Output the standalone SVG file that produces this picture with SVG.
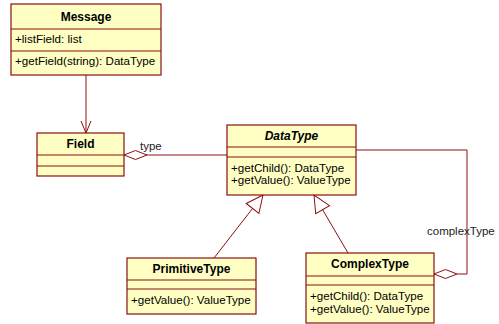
<svg xmlns="http://www.w3.org/2000/svg" width="499" height="324" viewBox="0 0 499 324">
<defs>
<style>
.box{fill:#FFFFC4;stroke:#8B1010;stroke-width:1.2}
.sep{stroke:#8B1010;stroke-width:1.2}
.ln{fill:none;stroke:#8B1010;stroke-width:1}
.t{font-family:"Liberation Sans",Arial,sans-serif;font-size:11.6px;fill:#000}
.b{font-weight:bold;text-anchor:middle;font-size:12px}
.lbl{font-family:"Liberation Sans",Arial,sans-serif;font-size:11.5px;fill:#222}
</style>
<marker id="gen" markerWidth="20" markerHeight="20" refX="18" refY="9" orient="auto" markerUnits="userSpaceOnUse">
<path d="M1,1 L18,9 L1,17 Z" fill="#fff" stroke="#8B1010" stroke-width="1"/>
</marker>
<marker id="open" markerWidth="14" markerHeight="14" refX="12" refY="6" orient="auto" markerUnits="userSpaceOnUse">
<path d="M0,1 L12,6 L0,11" fill="none" stroke="#8B1010" stroke-width="1"/>
</marker>
</defs>
<g id="connectors">
<line class="ln" x1="86" y1="75" x2="86" y2="133" marker-end="url(#open)"/>
<g id="agg-type">
<polygon points="124,155 135.5,150.5 147,155 135.5,159.5" fill="#fff" stroke="#8B1010" stroke-width="1"/>
<line class="ln" x1="147" y1="155" x2="227" y2="155"/>
<text class="lbl" x="140" y="150">type</text>
</g>
<g id="agg-complex">
<polyline class="ln" points="356,150 467,150 467,274 457,274"/>
<polygon points="434,274 445.5,269.5 457,274 445.5,278.5" fill="#fff" stroke="#8B1010" stroke-width="1"/>
<text class="lbl" x="427" y="235">complexType</text>
</g>
<line class="ln" x1="214" y1="258" x2="263" y2="195" marker-end="url(#gen)"/>
<line class="ln" x1="348" y1="253" x2="314" y2="195" marker-end="url(#gen)"/>
</g>
<g id="Message">
<rect class="box" x="11" y="4" width="150" height="71"/>
<line class="sep" x1="11" y1="29" x2="161" y2="29"/>
<line class="sep" x1="11" y1="51" x2="161" y2="51"/>
<text class="t b" x="86" y="21">Message</text>
<text class="t" x="15" y="43">+listField: list</text>
<text class="t" x="15" y="65">+getField(string): DataType</text>
</g>
<g id="Field">
<rect class="box" x="37" y="133" width="87" height="43"/>
<line class="sep" x1="37" y1="155" x2="124" y2="155"/>
<line class="sep" x1="37" y1="166" x2="124" y2="166"/>
<text class="t b" x="80.5" y="148">Field</text>
</g>
<g id="DataType">
<rect class="box" x="227" y="125" width="129" height="70"/>
<line class="sep" x1="227" y1="147" x2="356" y2="147"/>
<line class="sep" x1="227" y1="157" x2="356" y2="157"/>
<text class="t b" x="291.5" y="140" font-style="italic">DataType</text>
<text class="t" x="231" y="172">+getChild(): DataType</text>
<text class="t" x="231" y="184">+getValue(): ValueType</text>
</g>
<g id="PrimitiveType">
<rect class="box" x="127" y="258" width="129" height="56"/>
<line class="sep" x1="127" y1="280" x2="256" y2="280"/>
<line class="sep" x1="127" y1="289" x2="256" y2="289"/>
<text class="t b" x="191.5" y="273">PrimitiveType</text>
<text class="t" x="131" y="304">+getValue(): ValueType</text>
</g>
<g id="ComplexType">
<rect class="box" x="306" y="253" width="128" height="70"/>
<line class="sep" x1="306" y1="276" x2="434" y2="276"/>
<line class="sep" x1="306" y1="285" x2="434" y2="285"/>
<text class="t b" x="370" y="268">ComplexType</text>
<text class="t" x="310" y="300">+getChild(): DataType</text>
<text class="t" x="310" y="313">+getValue(): ValueType</text>
</g>
</svg>
